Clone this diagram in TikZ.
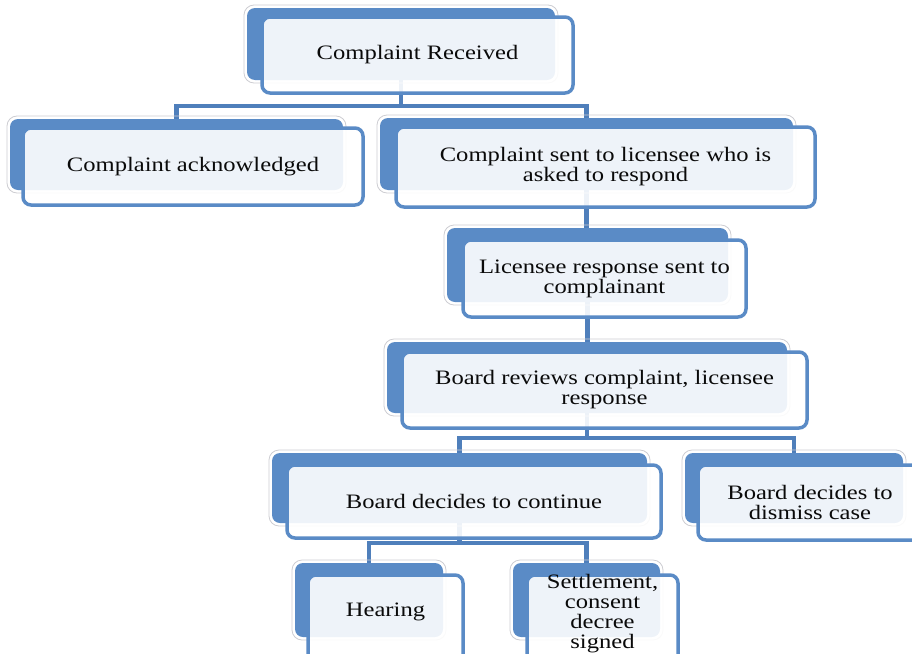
\documentclass[tikz,border=0pt]{standalone}
\usepackage{fontspec}
\setmainfont{Liberation Serif}[FakeStretch=1.2]
\definecolor{boxblue}{RGB}{90,139,198}
\definecolor{linkblue}{RGB}{79,127,187}
\definecolor{halogray}{RGB}{205,205,210}
\definecolor{txt}{RGB}{10,10,10}
\tikzset{
  halobox/.style={draw=halogray, line width=0.8pt, rounded corners=10pt, inner sep=0pt},
  backfill/.style={fill=boxblue, rounded corners=8pt, inner sep=0pt},
  frontbox/.style={draw=boxblue, line width=3.5pt, fill=white, fill opacity=0.9, text opacity=1,
    rounded corners=8pt, inner sep=0pt, align=center, text=txt,
    font=\fontsize{20.5}{20}\selectfont},
  lbl/.style={align=center, text=txt, inner sep=0pt, font=\fontsize{20.5}{20}\selectfont},
  link/.style={draw=linkblue, line width=4.5pt}
}
\newcommand\backbox[5]{%
  \node[halobox, minimum width=#4+6, minimum height=#5+6] (#1h) at (#2,#3) {};
  \node[backfill, minimum width=#4, minimum height=#5] (#1) at (#2,#3) {};}
\begin{document}
\begin{tikzpicture}[x=1pt,y=-1pt]
\useasboundingbox (0,0) rectangle (912,653);
\clip (0,0) rectangle (912,653);
% junction rows
\coordinate (r1) at (0,106);
\coordinate (r2) at (0,438);
\coordinate (r3) at (0,543);
% back box centres (connector anchors)
\coordinate (c1) at (401,44);
\coordinate (c2) at (176.5,154.5);
\coordinate (c3) at (586.5,154);
\coordinate (c4) at (587.5,265);
\coordinate (c5) at (587,377.5);
\coordinate (c6) at (459.5,488);
\coordinate (c7) at (794,488);
\coordinate (c8) at (369,600);
\coordinate (c9) at (586.5,600);
% connectors (drawn first, behind boxes)
\draw[link] (c1) -- (c1 |- r1) -| (c2);
\draw[link] (c1 |- r1) -| (c3);
\draw[link] (c3) -- (c3 |- c4);
\draw[link] (c4) -- (c4 |- c5);
\draw[link] (c5) -- (c5 |- r2) -| (c6);
\draw[link] (c5 |- r2) -| (c7);
\draw[link] (c6) -- (c6 |- r3) -| (c8);
\draw[link] (c6 |- r3) -| (c9);
% back boxes
\backbox{b1}{401}{44}{308}{72}
\backbox{b2}{176.5}{154.5}{333}{71}
\backbox{b3}{586.5}{154}{413}{72}
\backbox{b4}{587.5}{265}{281}{74}
\backbox{b5}{587}{377.5}{400}{71}
\backbox{b6}{459.5}{488}{375}{70}
\backbox{b7}{794}{488}{218}{70}
\backbox{b8}{369}{600}{148}{74}
\backbox{b9}{586.5}{600}{147}{74}
% front boxes
\node[frontbox, minimum width=311, minimum height=76] (n1) at (417.5,55) {Complaint Received};
\node[frontbox, minimum width=340, minimum height=77] (n2) at (193,166.5) {Complaint acknowledged};
\node[frontbox, minimum width=419, minimum height=80] (n3) at (605.5,167) {Complaint sent to licensee who is\\asked to respond};
\node[frontbox, minimum width=283, minimum height=77] (n4) at (604.5,278.5) {Licensee response sent to\\complainant};
\node[frontbox, minimum width=405, minimum height=76] (n5) at (604.5,390) {Board reviews complaint, licensee\\response};
\node[frontbox, minimum width=374, minimum height=73] (n6) at (474,501.5) {Board decides to continue};
\node[frontbox, minimum width=224, minimum height=75] (n7) at (810,502.5) {Board decides to\\dismiss case};
\node[frontbox, minimum width=155, minimum height=90] (n8) at (385.5,620) {};
\node[frontbox, minimum width=151, minimum height=90] (n9) at (602.5,620) {};
\node[lbl] (t8) at (385.5,612) {Hearing};
\node[lbl] (t9) at (602.5,614) {Settlement,\\consent\\decree\\signed};
\end{tikzpicture}
\end{document}
